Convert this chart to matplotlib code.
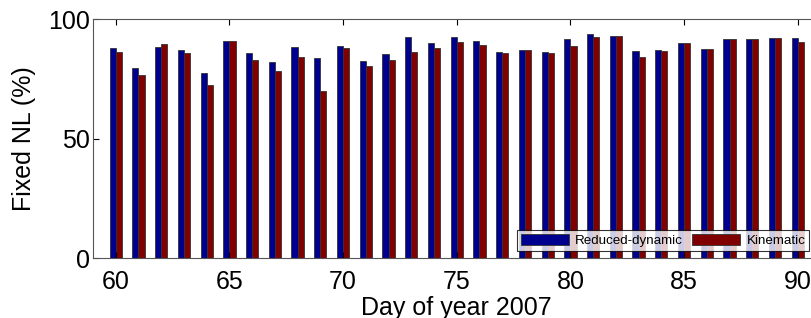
import numpy as np
import matplotlib
matplotlib.use("Agg")
import matplotlib.pyplot as plt

plt.rcParams['font.family'] = ['Liberation Sans', 'DejaVu Sans']

# datos
dias = np.arange(60, 91)
reducido = [88.1, 79.5, 88.5, 87.4, 77.5, 90.9, 85.8, 82.4, 88.5, 83.7,
            88.7, 82.6, 85.6, 92.5, 90.2, 92.5, 90.8, 86.3, 87.2, 86.4,
            91.9, 94.1, 93.0, 86.6, 87.2, 90.2, 87.6, 91.8, 92.0, 92.1, 92.2]
cinematico = [86.4, 76.8, 89.7, 85.8, 72.6, 90.9, 83.0, 78.5, 84.4, 69.9,
              88.1, 80.5, 83.1, 86.2, 88.1, 90.4, 89.4, 86.0, 87.2, 85.9,
              88.8, 92.5, 92.9, 84.1, 86.7, 90.1, 87.6, 91.8, 92.0, 92.1, 90.6]

azul = (0, 0, 0.5625)
rojo = (0.5, 0, 0)

fig = plt.figure(figsize=(8.11, 3.18), dpi=100)
ax = fig.add_axes([0.1147, 0.1877, 0.897, 0.751])

w = 0.27
ax.bar(dias - w/2, reducido, w, color=azul, edgecolor='#333333', linewidth=0.6, label="Reduced-dynamic")
ax.bar(dias + w/2, cinematico, w, color=rojo, edgecolor='#333333', linewidth=0.6, label="Kinematic")

ax.set_xlim(59.0, 91.0)
ax.set_ylim(0, 100)
ax.set_xticks(np.arange(60, 91, 5))
ax.set_yticks([0, 50, 100])
ax.tick_params(direction='in', top=True, right=True, labelsize=18, length=4)
ax.tick_params(axis='x', pad=8.5)
ax.tick_params(axis='y', pad=2)
for s in ax.spines.values():
    s.set_color('#555555')
ax.set_xlabel("Day of year 2007", fontsize=18, labelpad=1)
ax.set_ylabel("Fixed NL (%)", fontsize=18, labelpad=9)

leg = ax.legend(loc='lower left', bbox_to_anchor=(0.637, 0.211), bbox_transform=fig.transFigure,
                ncol=2, fontsize=9.6, handlelength=3.6, handleheight=0.83, frameon=True,
                fancybox=False, edgecolor='black', borderpad=0.3, columnspacing=0.75,
                handletextpad=0.45, borderaxespad=0)
leg.get_frame().set_linewidth(0.8)

fig.savefig("out.png", dpi=100)
